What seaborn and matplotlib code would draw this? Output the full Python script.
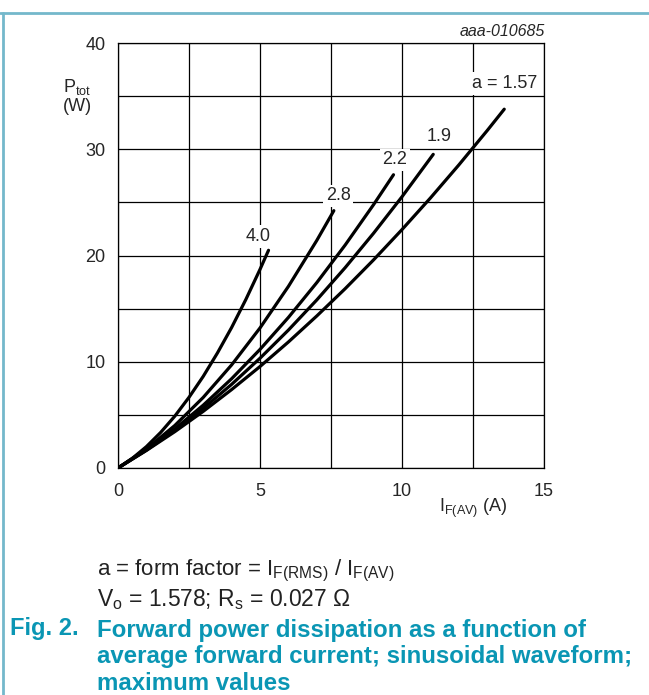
import matplotlib
matplotlib.use("Agg")
import matplotlib.pyplot as plt
import pandas as pd
import seaborn as sns
from matplotlib.lines import Line2D

# values
i_a400 = [0, 0.5, 1, 1.5, 2, 2.5, 3, 3.5, 4, 4.5, 5, 5.3]
p_a400 = [0, 0.90, 2.01, 3.34, 4.88, 6.65, 8.62, 10.82, 13.22, 15.85, 18.69, 20.49]

i_a280 = [0, 1, 2, 3, 4, 5, 6, 7, 7.6]
p_a280 = [0, 1.79, 4.00, 6.64, 9.70, 13.18, 17.09, 21.42, 24.22]

i_a220 = [0, 1, 2, 3, 4, 5, 6, 7, 8, 9, 9.7]
p_a220 = [0, 1.71, 3.68, 5.91, 8.40, 11.16, 14.17, 17.45, 20.99, 24.79, 27.60]

i_a190 = [0, 1, 2, 3, 4, 5, 6, 7, 8, 9, 10, 11.1]
p_a190 = [0, 1.68, 3.55, 5.61, 7.87, 10.33, 12.98, 15.82, 18.86, 22.10, 25.53, 29.52]

i_a157 = [0, 1, 2, 3, 4, 5, 6, 7, 8, 9, 10, 11, 12, 13, 13.6]
p_a157 = [0, 1.65, 3.42, 5.33, 7.38, 9.55, 11.86, 14.31, 16.88, 19.59, 22.44, 25.41, 28.52, 31.76, 33.77]

curve_names = ["4.0", "2.8", "2.2", "1.9", "a = 1.57"]
label_pos = [(4.93, 21.8), (7.75, 25.6), (9.75, 29.0), (11.3, 31.2), (13.6, 36.2)]

x_ticks = [0, 5, 10, 15]
y_ticks = [0, 10, 20, 30, 40]

sns.set_theme(style="white")
plt.rcParams["font.family"] = ["Liberation Sans", "DejaVu Sans"]
plt.rcParams["mathtext.fontset"] = "custom"
plt.rcParams["mathtext.rm"] = "Liberation Sans"
plt.rcParams["mathtext.it"] = "Liberation Sans:italic"

rows = []
for name, xs, ys in zip(curve_names,
                        [i_a400, i_a280, i_a220, i_a190, i_a157],
                        [p_a400, p_a280, p_a220, p_a190, p_a157]):
    for x, y in zip(xs, ys):
        rows.append({"curve": name, "I": x, "P": y})
df = pd.DataFrame(rows)

fig = plt.figure(figsize=(6.49, 6.95), dpi=100)
ax = fig.add_axes([118 / 649, 1 - 468 / 695, 426 / 649, 425 / 695])

sns.lineplot(data=df, x="I", y="P", hue="curve", palette=["black"] * 5,
             linewidth=2.3, legend=False, ax=ax, sort=False, zorder=3)

ax.set_xlim(0, 15)
ax.set_ylim(0, 40)
ax.set_xticks([v * 2.5 for v in range(7)], minor=True)
ax.set_yticks([v * 5 for v in range(9)], minor=True)
ax.set_xticks(x_ticks)
ax.set_yticks(y_ticks)
ax.set_xticklabels([str(v) for v in x_ticks], fontsize=13)
ax.set_yticklabels([str(v) for v in y_ticks], fontsize=13)
ax.grid(True, which="both", color="black", linewidth=0.9)
ax.tick_params(axis="x", length=0, pad=11)
ax.tick_params(axis="y", length=0, pad=9)
for s in ax.spines.values():
    s.set_color("black")
    s.set_linewidth(0.9)
ax.set_xlabel("")
ax.set_ylabel("")

for name, (lx, ly) in zip(curve_names, label_pos):
    ax.text(lx, ly, name, fontsize=13, ha="center", va="center", zorder=4,
            bbox=dict(boxstyle="square,pad=0.15", fc="white", ec="none"))

fig.text(545 / 649, 1 - 31 / 695, "aaa-010685", fontsize=11.5, style="italic",
         ha="right", va="center")
fig.text(77 / 649, 1 - 96 / 695, "$\\mathrm{P_{tot}}$\n(W)", fontsize=13,
         ha="center", va="center", linespacing=1.1)
fig.text(473 / 649, 1 - 508 / 695, "$\\mathrm{I_{F(AV)}}$ (A)", fontsize=13,
         ha="center", va="center")

fig.text(97 / 649, 1 - 571 / 695,
         "a = form factor = $\\mathrm{I_{F(RMS)}}$ / $\\mathrm{I_{F(AV)}}$",
         fontsize=16, ha="left", va="center", color="#222222")
fig.text(97 / 649, 1 - 600 / 695,
         "$\\mathrm{V_o}$ = 1.578; $\\mathrm{R_s}$ = 0.027 \u03a9",
         fontsize=16.5, ha="left", va="center", color="#222222")
teal = "#0a96b4"
fig.text(10 / 649, 1 - 629 / 695, "Fig. 2.", fontsize=17, fontweight="bold",
         color=teal, ha="left", va="center")
fig.text(97 / 649, 1 - 657 / 695,
         "Forward power dissipation as a function of\n"
         "average forward current; sinusoidal waveform;\n"
         "maximum values",
         fontsize=17.3, fontweight="bold", color=teal, ha="left", va="center",
         linespacing=1.17)

frame = "#74b8cb"
fig.add_artist(Line2D([0, 1], [1 - 13 / 695, 1 - 13 / 695], color=frame,
                      linewidth=2, transform=fig.transFigure))
fig.add_artist(Line2D([3 / 649, 3 / 649], [0, 1 - 13 / 695], color=frame,
                      linewidth=2, transform=fig.transFigure))

fig.savefig("out.png", dpi=100)
